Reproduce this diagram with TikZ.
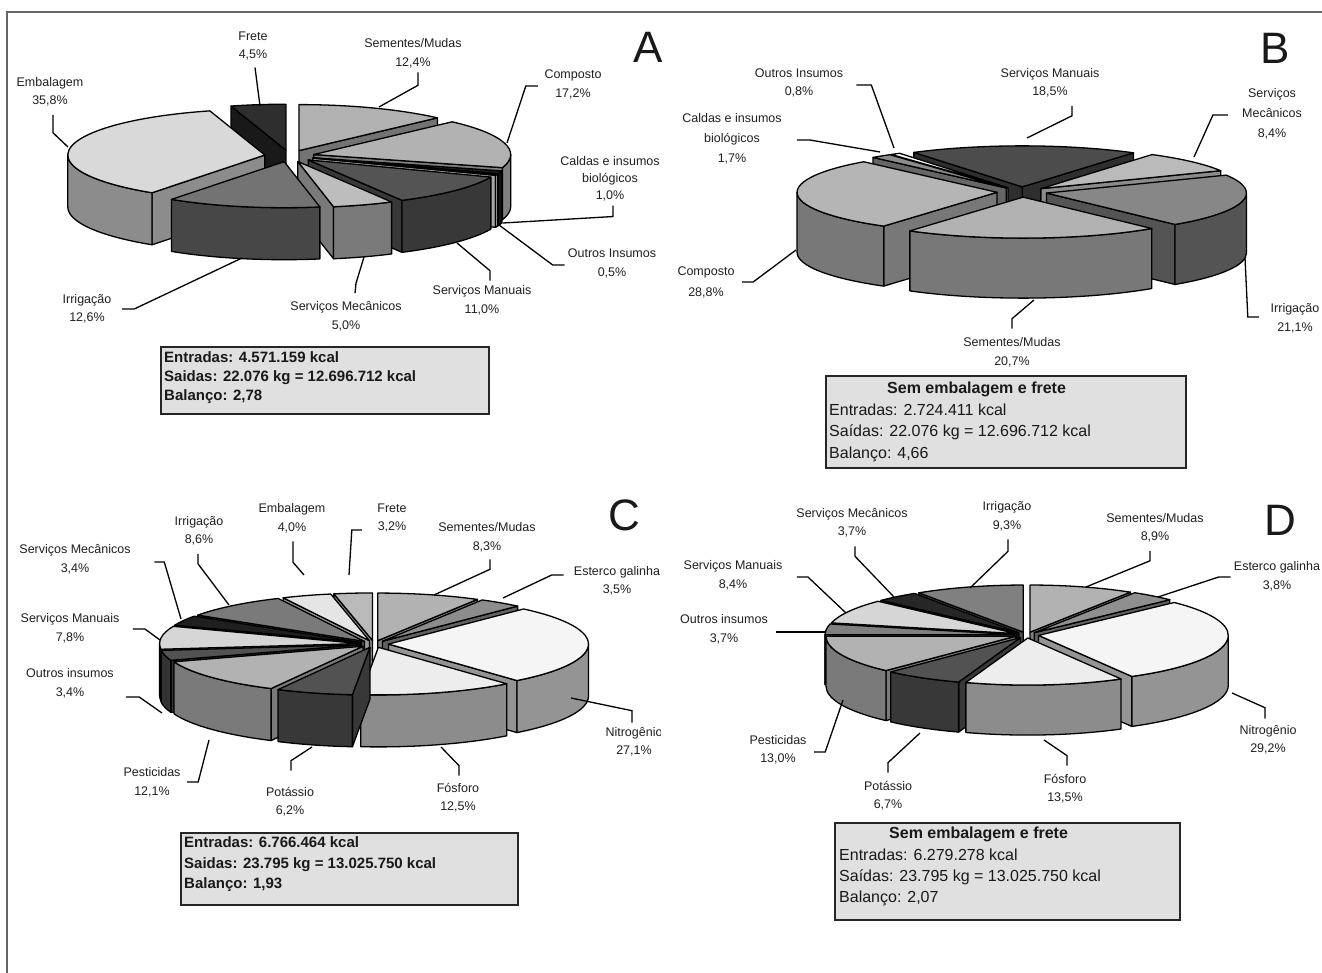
\documentclass[tikz,border=0pt]{standalone}
\usepackage{fontspec}
\setmainfont{Liberation Sans}

\newcommand{\pieparams}[6]{\def\pieCX{#1}\def\pieCY{#2}\def\pieRX{#3}\def\pieRY{#4}\def\pieH{#5}\def\pieD{#6}}
\newcommand{\slWall}[3]{%
  \pgfmathsetmacro{\wlx}{\slX+\pieRX*cos(#1)}%
  \pgfmathsetmacro{\wly}{\slY+\pieRY*sin(#1)}%
  \filldraw[pieline,fill=#3] (\wlx,\wly) arc[start angle=#1,end angle=#2,x radius=\pieRX,y radius=\pieRY]
    -- ++(0,-\pieH) arc[start angle=#2,end angle=#1,x radius=\pieRX,y radius=\pieRY] -- cycle;}
\newcommand{\pieslice}[4]{%
  \pgfmathsetmacro{\slMid}{(#1+#2)/2}%
  \pgfmathsetmacro{\slX}{\pieCX+\pieD*cos(\slMid)}%
  \pgfmathsetmacro{\slY}{\pieCY+\pieD*\pieRY/\pieRX*sin(\slMid)}%
  \pgfmathsetmacro{\slAx}{\slX+\pieRX*cos(#1)}%
  \pgfmathsetmacro{\slAy}{\slY+\pieRY*sin(#1)}%
  \pgfmathsetmacro{\slBx}{\slX+\pieRX*cos(#2)}%
  \pgfmathsetmacro{\slBy}{\slY+\pieRY*sin(#2)}%
  \pgfmathsetmacro{\slCa}{cos(#1)}%
  \pgfmathsetmacro{\slCb}{cos(#2)}%
  \ifdim\slCa pt>0pt
    \filldraw[pieline,fill=#4] (\slX,\slY) -- (\slAx,\slAy) -- (\slAx,\slAy-\pieH) -- (\slX,\slY-\pieH) -- cycle;
  \fi
  \ifdim\slCb pt<0pt
    \filldraw[pieline,fill=#4] (\slX,\slY) -- (\slBx,\slBy) -- (\slBx,\slBy-\pieH) -- (\slX,\slY-\pieH) -- cycle;
  \fi
  \pgfmathsetmacro{\slNa}{#1-360*floor((#1+180)/360)}%
  \pgfmathsetmacro{\slNb}{\slNa+#2-#1}%
  \pgfmathsetmacro{\slHi}{min(\slNb,0)}%
  \ifdim\slHi pt>\slNa pt \slWall{\slNa}{\slHi}{#4}\fi
  \pgfmathsetmacro{\slLo}{max(\slNa,180)}%
  \pgfmathsetmacro{\slHi}{min(\slNb,360)}%
  \ifdim\slHi pt>\slLo pt \slWall{\slLo}{\slHi}{#4}\fi
  \filldraw[pieline,fill=#3] (\slX,\slY) -- (\slAx,\slAy) arc[start angle=#1,end angle=#2,x radius=\pieRX,y radius=\pieRY] -- cycle;}

\tikzset{
  pieline/.style={draw=black, line width=1.3pt, line join=round},
  lbl/.style={font=\fontsize{12.5}{18.5}\selectfont, align=center, inner sep=0pt, text=black!88},
  lead/.style={draw=black, line width=1.3pt},
  panel/.style={font=\fontsize{44}{44}\selectfont, inner sep=0pt, text=black!90},
  sumbox/.style={draw=black!85, line width=1.8pt, fill=black!12, inner sep=0pt, anchor=north west},
  sumtxt/.style={align=left, inner sep=0pt, anchor=north west, text=black!90}
}

\begin{document}
\begin{tikzpicture}[x=1pt,y=1pt]
\useasboundingbox (0,0) rectangle (1322,-973);
\draw[black!60, line width=2pt] (7,-973) -- (7,-12) -- (1322,-12);

% A
\pieparams{289.5}{-156}{197}{46}{52}{25}
\pieslice{90}{106.2}{black!82}{black!90}
\pieslice{45.36}{90}{black!30}{black!55}
\pieslice{-16.56}{45.36}{black!30}{black!50}
\pieslice{106.2}{235.08}{black!15}{black!45}
\pieslice{-20.16}{-16.56}{black!88}{black!92}
\pieslice{-21.96}{-20.16}{black!8}{black!35}
\pieslice{-61.56}{-21.96}{black!67}{black!78}
\pieslice{-79.56}{-61.56}{black!26}{black!52}
\pieslice{-124.92}{-79.56}{black!55}{black!72}

\node[panel] (aTag) at (648,-47) {A};
\node[lbl] (aFre) at (253,-46) {Frete\\4,5\%};
\node[lbl] (aSem) at (413,-53.5) {Sementes/Mudas\\12,4\%};
\node[lbl] (aEmb) at (50,-92) {Embalagem\\35,8\%};
\node[lbl] (aComp) at (573,-84.5) {Composto\\17,2\%};
\node[lbl, font=\fontsize{12.5}{17}\selectfont] (aCald) at (610,-179) {Caldas e insumos\\biológicos\\1,0\%};
\node[lbl] (aOut) at (612,-263.5) {Outros Insumos\\0,5\%};
\node[lbl] (aSMan) at (482,-300.5) {Serviços Manuais\\11,0\%};
\node[lbl] (aSMec) at (346,-316) {Serviços Mecânicos\\5,0\%};
\node[lbl] (aIrr) at (87,-309) {Irrigação\\12,6\%};

\coordinate (aFreP) at (260,-106);
\coordinate (aSemP) at (379,-107);
\coordinate (aEmbP) at (68,-147);
\coordinate (aCompP) at (507,-143);
\coordinate (aCaldP) at (503,-223);
\coordinate (aOutP) at (499,-225);
\coordinate (aSManP) at (457,-243);
\coordinate (aSMecP) at (364,-257);
\coordinate (aIrrP) at (242,-258);
\draw[lead] (aFre.south) ++(2,-7) -- (aFreP);
\draw[lead] (aSem.south) ++(5,-4) -- ++(0,-13) -- (aSemP);
\draw[lead] (aEmb.south) ++(3,-8) -- ++(0,-18) -- (aEmbP);
\draw[lead] (aComp.west) ++(-6.5,-1.5) -- ++(-12,0) -- (aCompP);
\draw[lead] (aCald.south) ++(3,-4) -- ++(0,-11) -- (aCaldP);
\draw[lead] (aOut.west) ++(-3,-1.5) -- ++(-12,0) -- (aOutP);
\draw[lead] (aSMan.north) ++(8,5) -- ++(0,10) -- (aSManP);
\draw[lead] (aSMec.north) ++(9,8) -- ++(1,10) -- (aSMecP);
\draw[lead] (aIrr.east) ++(10.7,0) -- ++(12,0) -- (aIrrP);

\node[sumbox, minimum width=328pt, minimum height=67pt] (aBox) at (160,-346) {};
\node[sumtxt, font=\bfseries\fontsize{15}{19}\selectfont] (aTxt) at ([shift={(4,-5.5)}]aBox.north west)
  {Entradas: 4.571.159 kcal\\Saidas: 22.076 kg = 12.696.712 kcal\\Balanço: 2,78};

% B
\pieparams{1022}{-192}{200}{41}{60}{25}
\pieslice{56.2}{122.8}{black!70}{black!82}
\pieslice{122.8}{125.68}{white}{black!25}
\pieslice{125.68}{131.8}{black!45}{black!60}
\pieslice{25.96}{56.2}{black!27}{black!45}
\pieslice{131.8}{235.48}{black!29}{black!53}
\pieslice{-50}{25.96}{black!47}{black!67}
\pieslice{-124.52}{-50}{black!30}{black!53}

\node[panel] (bTag) at (1275,-48) {B};
\node[lbl] (bOut) at (799,-83) {Outros Insumos\\0,8\%};
\node[lbl] (bSMan) at (1050,-83) {Serviços Manuais\\18,5\%};
\node[lbl, font=\fontsize{12.5}{20}\selectfont] (bSMec) at (1272,-114) {Serviços\\Mecânicos\\8,4\%};
\node[lbl, font=\fontsize{12.5}{20}\selectfont] (bCald) at (732,-139) {Caldas e insumos\\biológicos\\1,7\%};
\node[lbl, font=\fontsize{12.5}{21}\selectfont] (bComp) at (706,-282) {Composto\\28,8\%};
\node[lbl] (bIrr) at (1295,-318.5) {Irrigação\\21,1\%};
\node[lbl] (bSem) at (1012,-352.5) {Sementes/Mudas\\20,7\%};

\coordinate (bOutP) at (894,-148);
\coordinate (bSManP) at (1027,-138);
\coordinate (bSMecP) at (1194,-157);
\coordinate (bCaldP) at (880,-152);
\coordinate (bCompP) at (796,-250);
\coordinate (bIrrP) at (1245,-258);
\coordinate (bSemP) at (1034,-300);
\draw[lead] (bOut.east) ++(13,-2) -- ++(15,0) -- (bOutP);
\draw[lead] (bSMan.south) ++(22,-8) -- ++(0,-10) -- (bSManP);
\draw[lead] (bSMec.west) ++(-14,-1) -- ++(-15,0) -- (bSMecP);
\draw[lead] (bCald.east) ++(15,-1) -- ++(13,0) -- (bCaldP);
\draw[lead] (bComp.east) ++(7.5,0) -- ++(11,0) -- (bCompP);
\draw[lead] (bIrr.west) ++(-11.7,1.5) -- ++(-11,0) -- (bIrrP);
\draw[lead] (bSem.north) ++(0,9) -- ++(0,10) -- (bSemP);

\node[sumbox, minimum width=360pt, minimum height=92pt] (bBox) at (825,-375) {};
\node[sumtxt, font=\fontsize{16}{21.5}\selectfont] (bTxt) at ([shift={(4,-7)}]bBox.north west)
  {\textbf{\hspace*{58pt}Sem embalagem e frete}\\Entradas: 2.724.411 kcal\\Saídas: 22.076 kg = 12.696.712 kcal\\Balanço: 4,66};

% C
\begin{scope}
\clip (0,-470) rectangle (660,-973);
\pieparams{374}{-644}{200}{47.6}{52}{14.5}
\pieslice{90}{101.16}{black!27}{black!45}
\pieslice{60.12}{90}{black!30}{black!50}
\pieslice{101.16}{115.56}{black!10}{black!40}
\pieslice{47.52}{60.12}{black!45}{black!62}
\pieslice{115.56}{146.52}{black!52}{black!70}
\pieslice{146.52}{158.76}{black!88}{black!92}
\pieslice{158.76}{186.84}{black!16}{black!45}
\pieslice{-50.04}{47.52}{black!4}{black!42}
\pieslice{-173.16}{-160.92}{black!68}{black!80}
\pieslice{-160.92}{-117.36}{black!30}{black!52}
\pieslice{-95.04}{-50.04}{black!7}{black!45}
\pieslice{-117.36}{-95.04}{black!68}{black!78}

\node[panel] (cTag) at (624,-515) {C};
\node[lbl] (cIrr) at (199,-531) {Irrigação\\8,6\%};
\node[lbl] (cEmb) at (292,-518.5) {Embalagem\\4,0\%};
\node[lbl] (cFre) at (392,-518) {Frete\\3,2\%};
\node[lbl] (cSem) at (487,-537.5) {Sementes/Mudas\\8,3\%};
\node[lbl] (cSMec) at (75,-559) {Serviços Mecânicos\\3,4\%};
\node[lbl] (cEst) at (617,-581) {Esterco galinha\\3,5\%};
\node[lbl] (cSMan) at (70,-628.5) {Serviços Manuais\\7,8\%};
\node[lbl] (cOut) at (70,-683.5) {Outros insumos\\3,4\%};
\node[lbl] (cPest) at (152,-782.5) {Pesticidas\\12,1\%};
\node[lbl] (cPot) at (290,-801.5) {Potássio\\6,2\%};
\node[lbl] (cFos) at (458,-797.5) {Fósforo\\12,5\%};
\node[lbl] (cNit) at (634,-741.5) {Nitrogênio\\27,1\%};

\coordinate (cIrrP) at (229,-605);
\coordinate (cEmbP) at (304,-575);
\coordinate (cFreP) at (349,-575);
\coordinate (cSemP) at (434,-595);
\coordinate (cSMecP) at (181,-619);
\coordinate (cEstP) at (503,-598);
\coordinate (cSManP) at (160,-640);
\coordinate (cOutP) at (162,-713);
\coordinate (cPestP) at (209,-740);
\coordinate (cPotP) at (312,-747);
\coordinate (cFosP) at (441,-747);
\coordinate (cNitP) at (571,-698);
\draw[lead] (cIrr.south) ++(-1,-8) -- ++(0,-10) -- (cIrrP);
\draw[lead] (cEmb.south) ++(1,-8) -- ++(0,-21) -- (cEmbP);
\draw[lead] (cFre.west) ++(-15.4,-12) -- ++(-10,0) -- (cFreP);
\draw[lead] (cSem.south) ++(3,-7) -- ++(0,-10) -- (cSemP);
\draw[lead] (cSMec.east) ++(23.5,-3) -- ++(10,0) -- (cSMecP);
\draw[lead] (cEst.west) ++(-10,6) -- ++(-12,0) -- (cEstP);
\draw[lead] (cSMan.east) ++(13.4,-0.5) -- ++(12,0) -- (cSManP);
\draw[lead] (cOut.east) ++(12.25,-13.5) -- ++(13,0) -- (cOutP);
\draw[lead] (cPest.east) ++(6.5,0.5) -- ++(11,0) -- (cPestP);
\draw[lead] (cPot.north) ++(1,16) -- ++(0,10) -- (cPotP);
\draw[lead] (cFos.north) ++(1,7) -- ++(0,10) -- (cFosP);
\draw[lead] (cNit.north) ++(-2,4) -- ++(0,12) -- (cNitP);

\node[sumbox, minimum width=337pt, minimum height=72pt] (cBox) at (180,-832) {};
\node[sumtxt, font=\bfseries\fontsize{15}{20.5}\selectfont] (cTxt) at ([shift={(4,-4.6)}]cBox.north west)
  {Entradas: 6.766.464 kcal\\Saidas: 23.795 kg = 13.025.750 kcal\\Balanço: 1,93};
\end{scope}

% D
\pieparams{1026.7}{-635}{189.7}{47.1}{50}{12}
\pieslice{58.02}{90}{black!30}{black!50}
\pieslice{90}{123.39}{black!50}{black!68}
\pieslice{44.37}{58.02}{black!44}{black!62}
\pieslice{123.39}{136.69}{black!85}{black!92}
\pieslice{136.69}{166.87}{black!16}{black!45}
\pieslice{166.87}{180.16}{black!50}{black!68}
\pieslice{-60.55}{44.37}{black!4}{black!42}
\pieslice{-179.84}{-133.13}{black!30}{black!52}
\pieslice{-133.13}{-109.05}{black!68}{black!78}
\pieslice{-109.05}{-60.55}{black!7}{black!45}

\node[panel] (dTag) at (1280,-520) {D};
\node[lbl] (dSMec) at (852,-522.5) {Serviços Mecânicos\\3,7\%};
\node[lbl] (dIrr) at (1007,-516.5) {Irrigação\\9,3\%};
\node[lbl] (dSem) at (1155,-528) {Sementes/Mudas\\8,9\%};
\node[lbl] (dSMan) at (733,-575.5) {Serviços Manuais\\8,4\%};
\node[lbl] (dEst) at (1277,-576.5) {Esterco galinha\\3,8\%};
\node[lbl] (dOut) at (724,-629.5) {Outros insumos\\3,7\%};
\node[lbl] (dPest) at (778,-750) {Pesticidas\\13,0\%};
\node[lbl] (dPot) at (888,-795.5) {Potássio\\6,7\%};
\node[lbl] (dFos) at (1065,-788.5) {Fósforo\\13,5\%};
\node[lbl] (dNit) at (1268,-739.5) {Nitrogênio\\29,2\%};

\coordinate (dSMecP) at (894,-597);
\coordinate (dIrrP) at (970,-588);
\coordinate (dSemP) at (1086,-587);
\coordinate (dSManP) at (846,-613);
\coordinate (dEstP) at (1158,-597);
\coordinate (dOutP) at (825,-632);
\coordinate (dPestP) at (843,-700);
\coordinate (dPotP) at (920,-733);
\coordinate (dFosP) at (1044,-740);
\coordinate (dNitP) at (1232,-693);
\draw[lead] (dSMec.south) ++(3,-9) -- ++(0,-10) -- (dSMecP);
\draw[lead] (dIrr.south) ++(1,-8) -- ++(0,-12) -- (dIrrP);
\draw[lead] (dSem.south) ++(-5,-8) -- ++(0,-10) -- (dSemP);
\draw[lead] (dSMan.east) ++(14.4,-1.5) -- ++(11,0) -- (dSManP);
\draw[lead] (dEst.west) ++(-3,-0.5) -- ++(-12,0) -- (dEstP);
\draw[lead] (dOut.east) ++(8.25,-2.5) -- (dOutP);
\draw[lead] (dPest.east) ++(7.5,-2) -- ++(11,0) -- (dPestP);
\draw[lead] (dPot.north) ++(0,8) -- ++(0,10) -- (dPotP);
\draw[lead] (dFos.north) ++(2,8) -- ++(0,10) -- (dFosP);
\draw[lead] (dNit.north) ++(-3,6) -- ++(0,11) -- (dNitP);

\node[sumbox, minimum width=345pt, minimum height=97pt] (dBox) at (834,-822) {};
\node[sumtxt, font=\fontsize{16}{21.3}\selectfont] (dTxt) at ([shift={(5,-5)}]dBox.north west)
  {\textbf{\hspace*{50pt}Sem embalagem e frete}\\Entradas: 6.279.278 kcal\\Saídas: 23.795 kg = 13.025.750 kcal\\Balanço: 2,07};
\end{tikzpicture}
\end{document}
